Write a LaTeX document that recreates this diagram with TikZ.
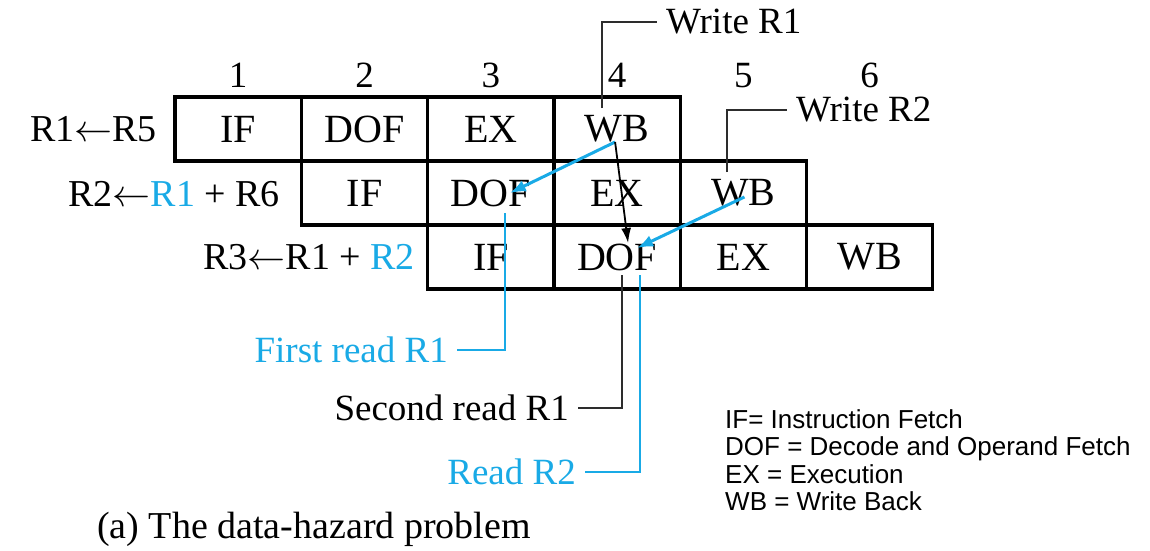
\RequirePackage{fix-cm}
\documentclass[tikz,border=0pt]{standalone}
\usepackage{fontspec}
\setmainfont{Liberation Serif}
\newfontfamily\legendfont{Liberation Sans}
\usetikzlibrary{arrows.meta,calc}
\definecolor{hblue}{RGB}{25,170,230}
\definecolor{leadgray}{RGB}{45,45,45}
\begin{document}
\begin{tikzpicture}[x=1pt,y=-1pt,
  cell/.style={draw, line width=3.2pt, minimum width=126.3pt, minimum height=64pt, inner sep=0pt, font=\fontsize{40}{44}\selectfont},
  lbl/.style={font=\fontsize{38}{42}\selectfont, inner sep=0pt},
  num/.style={font=\fontsize{37}{40}\selectfont, inner sep=0pt},
  tag/.style={font=\fontsize{37}{40}\selectfont, inner ysep=0pt, inner xsep=9pt},
  leader/.style={draw=leadgray, line width=2pt},
  bleader/.style={draw=hblue, line width=2pt},
  barrow/.style={draw=hblue, line width=3pt, -{Latex[length=16pt,width=12pt]}},
  karrow/.style={draw=black, line width=1.8pt, -{Latex[length=15pt,width=10pt]}},
  legend/.style={font=\legendfont\fontsize{26}{28}\selectfont, inner sep=0pt, anchor=base west}
]
\useasboundingbox (0,0) rectangle (1150,550);
\fill[white] (0,0) rectangle (1150,550);

% row 1
\node[cell] (c11) at (238.2,129) {IF};
\node[cell] (c12) at (364.5,129) {DOF};
\node[cell] (c13) at (490.8,129) {EX};
\node[cell] (c14) at (617.1,129) {WB};
% row 2
\node[cell] (c22) at (364.5,193) {IF};
\node[cell] (c23) at (490.8,193) {DOF};
\node[cell] (c24) at (617.1,193) {EX};
\node[cell] (c25) at (743.4,193) {WB};
% row 3
\node[cell] (c33) at (490.8,257) {IF};
\node[cell] (c34) at (617.1,257) {DOF};
\node[cell] (c35) at (743.4,257) {EX};
\node[cell] (c36) at (869.7,257) {WB};

% column numbers
\node[num] (n1) at (238.2,75.5) {1};
\node[num] (n2) at (364.5,75.5) {2};
\node[num] (n3) at (490.8,75.5) {3};
\node[num] (n4) at (617.1,75.5) {4};
\node[num] (n5) at (743.4,75.5) {5};
\node[num] (n6) at (869.7,75.5) {6};

% instruction labels
\node[lbl, anchor=east] (i1) at (157,129) {R1$\leftarrow$R5};
\node[lbl, anchor=east] (i2) at (280,194) {R2$\leftarrow${\color{hblue}R1} + R6};
\node[lbl, anchor=east] (i3) at (415,257) {R3$\leftarrow$R1 + {\color{hblue}R2}};

% write annotations
\node[tag, anchor=west] (wr1) at (657,22) {Write R1};
\coordinate (w1s) at (602,108);
\draw[leader] (w1s) |- (wr1.west);
\node[tag, anchor=west] (wr2) at (787,110) {Write R2};
\coordinate (w2s) at (727,172);
\draw[leader] (w2s) |- (wr2.west);

% hazard arrows
\coordinate (a1s) at ($(c14.center)+(-2,13)$);
\coordinate (a1e) at ($(c23.center)+(19,0)$);
\coordinate (a2e) at ($(c34.center)+(11,-14)$);
\coordinate (a3s) at ($(c25.center)+(1,4)$);
\coordinate (a3e) at ($(c34.center)+(20,-9)$);
\draw[barrow] (a1s) -- (a1e);
\draw[karrow] (a1s) -- (a2e);
\draw[barrow] (a3s) -- (a3e);

% read annotations
\node[tag, anchor=east, text=hblue] (fr1) at (457,350) {First read R1};
\coordinate (fr1s) at (505,213);
\draw[bleader] (fr1s) |- (fr1.east);
\node[tag, anchor=east] (sr1) at (578,408) {Second read R1};
\coordinate (sr1s) at (622,275);
\draw[leader] (sr1s) |- (sr1.east);
\node[tag, anchor=east, text=hblue] (rr2) at (585,472) {Read R2};
\coordinate (rr2s) at (640,275);
\draw[bleader] (rr2s) |- (rr2.east);

% caption
\node[lbl, anchor=base west] (cap) at (97,538) {(a) The data-hazard problem};

% legend
\node[legend] (lg1) at (725,428) {IF= Instruction Fetch};
\node[legend] (lg2) at (725,455.5) {DOF = Decode and Operand Fetch};
\node[legend] (lg3) at (725,483) {EX = Execution};
\node[legend] (lg4) at (725,510.5) {WB = Write Back};
\end{tikzpicture}
\end{document}
